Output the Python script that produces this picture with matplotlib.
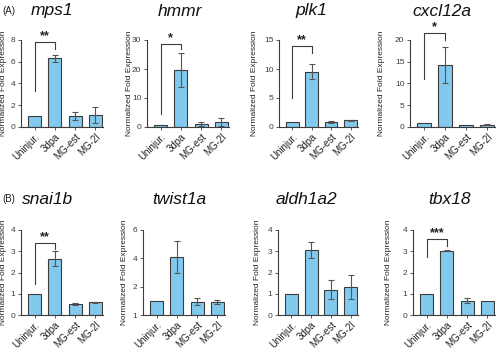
import numpy as np
import matplotlib
matplotlib.use("Agg")
import matplotlib.pyplot as plt

plt.rcParams['font.family'] = ['Liberation Sans', 'DejaVu Sans']

# ---------------------------------------------
# Datos: expresión relativa por condición
# ---------------------------------------------
grupos = ["Uninjur.", "3dpa", "MG-est", "MG-2l"]

genes = ["mps1", "hmmr", "plk1", "cxcl12a",
         "snai1b", "twist1a", "aldh1a2", "tbx18"]

mps1_media = [1.0, 6.3, 1.0, 1.1]
mps1_err = [0.0, 0.32, 0.4, 0.75]
hmmr_media = [0.7, 19.7, 1.0, 1.7]
hmmr_err = [0.0, 5.8, 0.7, 1.4]
plk1_media = [0.9, 9.5, 0.8, 1.15]
plk1_err = [0.0, 1.3, 0.15, 0.05]
cxcl12a_media = [0.85, 14.3, 0.5, 0.5]
cxcl12a_err = [0.0, 4.2, 0.0, 0.15]
snai1b_media = [1.0, 2.65, 0.52, 0.6]
snai1b_err = [0.0, 0.36, 0.04, 0.03]
twist1a_media = [1.0, 4.1, 0.95, 0.92]
twist1a_err = [0.0, 1.1, 0.22, 0.14]
aldh1a2_media = [1.0, 3.05, 1.2, 1.32]
aldh1a2_err = [0.0, 0.38, 0.43, 0.56]
tbx18_media = [1.0, 3.02, 0.67, 0.68]
tbx18_err = [0.0, 0.02, 0.12, 0.0]

medias = [mps1_media, hmmr_media, plk1_media, cxcl12a_media,
          snai1b_media, twist1a_media, aldh1a2_media, tbx18_media]
errores = [mps1_err, hmmr_err, plk1_err, cxcl12a_err,
           snai1b_err, twist1a_err, aldh1a2_err, tbx18_err]

# límites y marcas del eje y
y_max = [8, 30, 15, 20, 4, 6, 4, 4]
y_ticks = [[0, 2, 4, 6, 8], [0, 10, 20, 30], [0, 5, 10, 15], [0, 5, 10, 15, 20],
           [0, 1, 2, 3, 4], [0, 2, 4, 6], [0, 1, 2, 3, 4], [0, 1, 2, 3, 4]]
y_ticklabels = [None, None, None, None, None, ["1", "2", "4", "6"], None, None]

# significancia Uninjur. vs 3dpa: (altura, pata izq., pata der., estrellas)
signif = [(7.8, 3.3, 7.2, "**"), (28.6, 4.5, 27.0, "*"),
          (14.0, 5.0, 12.8, "**"), (21.5, 11.0, 20.0, "*"),
          (3.4, 1.45, 3.1, "**"), None, None,
          (3.57, 2.75, 3.24, "***")]

# ---------------------------------------------
# Figura
# ---------------------------------------------
W, H = 500, 349
fig = plt.figure(figsize=(5.0, 3.49), dpi=100)

# cajas de ejes en píxeles (izq, der, arriba, abajo)
cajas = [(21, 103, 40, 127), (147, 229, 40, 127), (279, 358, 40, 127), (410, 495, 40, 127),
         (21, 103, 230, 315), (143, 225, 230, 315), (278, 358, 230, 315), (413, 495, 230, 315)]
titulos_x = [52, 180, 311, 442, 48, 179, 306, 449]
ylabel_x = [7, 133, 258, 385, 7, 128, 261, 392]

azul = "#82c9ee"
gris = "#3c3c3c"
x = np.arange(len(grupos))

for i, gen in enumerate(genes):
    l, r, t, b = cajas[i]
    ax = fig.add_axes([l / W, 1 - b / H, (r - l) / W, (b - t) / H])
    ax.bar(x, medias[i], width=0.65, color=azul, edgecolor=gris, linewidth=0.8, zorder=2)
    err = np.array(errores[i])
    m = err > 0
    ax.errorbar(x[m], np.array(medias[i])[m], yerr=err[m], fmt="none",
                ecolor="#555555", elinewidth=0.8, capsize=2.5, capthick=0.8, zorder=3)
    ax.set_xlim(-0.68, 3.38)
    ax.set_ylim(0, y_max[i])
    ax.set_yticks(y_ticks[i])
    if y_ticklabels[i] is not None:
        ax.set_yticklabels(y_ticklabels[i])
    ax.set_xticks(x)
    ax.set_xticklabels(grupos, rotation=45, ha="right", rotation_mode="anchor", fontsize=7)
    ax.tick_params(axis="y", labelsize=6, length=2, width=0.6, pad=2, colors=gris)
    ax.tick_params(axis="x", length=2, width=0.6, pad=1.5, colors=gris)
    for lab in ax.get_xticklabels():
        lab.set_color("#222222")
    for s in ["top", "right"]:
        ax.spines[s].set_visible(False)
    for s in ["left", "bottom"]:
        ax.spines[s].set_color(gris)
        ax.spines[s].set_linewidth(0.8)
    ax.set_ylabel("Normalized Fold Expression", fontsize=6, color="#222222")
    ax.yaxis.set_label_coords((ylabel_x[i] - l) / (r - l), 0.5)

    if signif[i] is not None:
        yt, yl, yr, est = signif[i]
        ax.plot([0, 0, 1, 1], [yl, yt, yt, yr], color=gris, lw=0.8, clip_on=False)
        ax.text(0.5, yt, est, ha="center", va="bottom", fontsize=9,
                fontweight="bold", color="#222222")

    ty = 11 if i < 4 else 200
    fig.text(titulos_x[i] / W, 1 - ty / H, gen, fontsize=12.5, style="italic",
             ha="center", va="center", color="#111111")

fig.text(2 / W, 1 - 11 / H, "(A)", fontsize=7, ha="left", va="center", color="#222222")
fig.text(2 / W, 1 - 199 / H, "(B)", fontsize=7, ha="left", va="center", color="#222222")

fig.savefig("out.png", dpi=100)
